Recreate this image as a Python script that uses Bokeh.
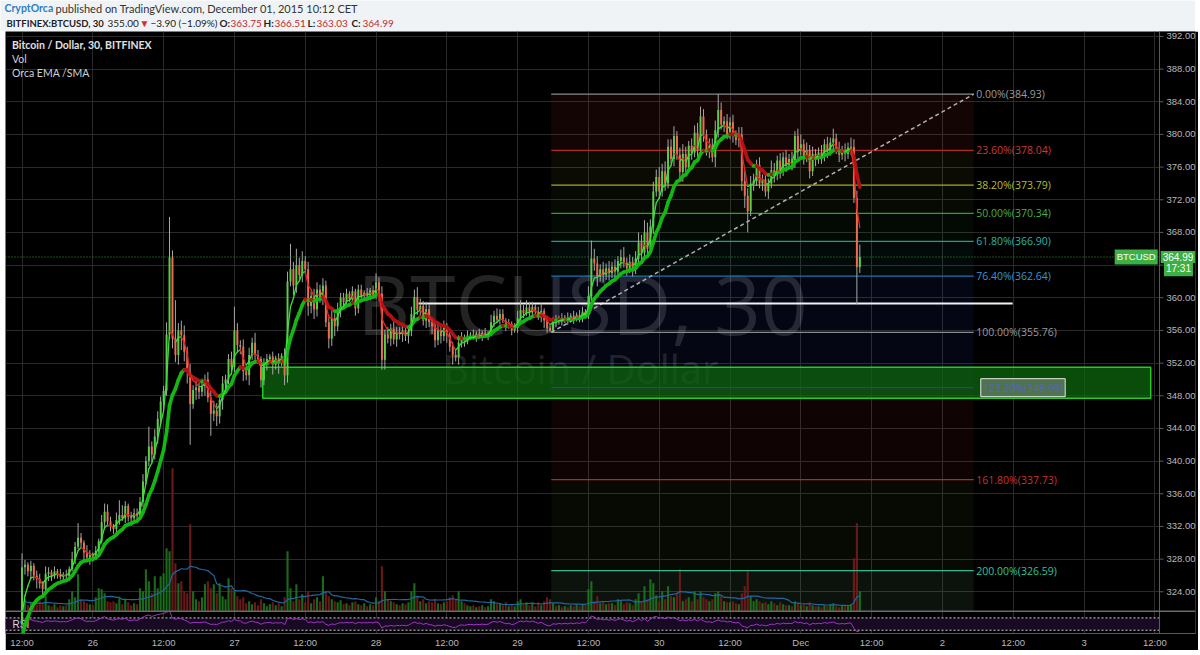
import numpy as np
from bokeh.plotting import figure
from bokeh.models import Range1d, FixedTicker, Label, Span, ColumnDataSource, NumeralTickFormatter, Spacer
from bokeh.layouts import column, row
from bokeh.embed import file_html
from bokeh.resources import INLINE
from bokeh.core.properties import value

# ---------------- DATA ----------------
# time in hours from 25 Nov 2015 00:00, 30-minute candles
first_hour = 12.0
bar_hours = 0.5
first_open = 320.0
closes = [
    327.0, 327.3, 326.5, 327.2, 326.0, 325.6, 325.0, 324.3, 326.2, 326.4,
    325.9, 326.5, 326.2, 325.8, 326.1, 325.9, 326.8, 328.0, 329.5, 330.6,
    330.0, 328.8, 328.2, 328.5, 328.3, 329.0, 330.2, 332.5, 333.8, 332.6,
    332.0, 331.7, 332.8, 333.4, 333.0, 334.5, 333.2, 333.0, 333.6, 333.3,
    335.0, 337.5, 340.0, 341.8, 340.8, 343.0, 345.2, 347.3, 348.6, 355.5,
    364.9, 355.0, 353.0, 356.0, 355.4, 353.4, 351.0, 347.0, 348.7, 349.0,
    348.5, 349.2, 350.0, 347.8, 345.8, 346.2, 345.5, 347.5, 349.5, 350.0,
    352.5, 351.5, 356.0, 354.2, 354.0, 351.0, 350.5, 353.0, 354.5, 353.0,
    352.5, 349.9, 352.0, 352.5, 352.8, 351.8, 352.6, 352.2, 352.9, 350.5,
    362.0, 363.5, 361.5, 364.0, 362.8, 364.5, 363.5, 359.0, 360.2, 358.6,
    361.0, 360.0, 361.5, 357.0, 355.0, 357.5, 356.5, 358.5, 360.0, 359.5,
    360.5, 359.8, 360.8, 358.7, 361.0, 360.2, 360.6, 360.3, 360.9, 360.4,
    361.9, 360.5, 352.4, 355.5, 355.0, 356.2, 354.9, 355.8, 355.5, 356.0,
    355.3, 355.9, 358.0, 360.1, 358.5, 359.0, 357.2, 358.6, 357.0, 356.5,
    354.8, 356.0, 355.3, 356.3, 355.4, 354.0, 353.0, 352.7, 354.5, 355.2,
    354.6, 355.4, 355.5, 355.2, 355.6, 355.3, 355.7, 355.4, 355.6, 357.0,
    357.8, 357.3, 358.0, 357.2, 356.5, 356.8, 356.0, 356.3, 357.5, 358.5,
    358.1, 358.8, 358.2, 358.9, 358.3, 357.6, 358.4, 357.2, 356.3, 356.0,
    357.3, 357.0, 357.5, 357.2, 357.6, 357.3, 357.8, 357.4, 357.9, 357.6,
    358.3, 358.0, 360.2, 364.8, 364.2, 362.6, 363.5, 362.8, 363.6, 363.0,
    363.8, 363.2, 364.5, 365.0, 364.3, 363.6, 364.4, 363.5, 364.8, 366.8,
    365.5, 368.0, 366.0, 368.7, 373.0, 374.8, 373.0, 375.5, 374.0, 378.5,
    377.0, 379.8, 377.5, 375.4, 377.6, 376.0, 378.6, 377.8, 380.2, 378.0,
    382.2, 380.0, 378.0, 378.6, 377.2, 380.5, 383.0, 381.2, 381.6, 380.0,
    381.5, 379.9, 379.3, 380.0, 374.3, 372.5, 370.6, 374.0, 374.3, 376.3,
    374.0, 374.5, 373.0, 374.0, 375.6, 375.0, 376.8, 375.5, 377.2, 376.3,
    377.0, 376.5, 379.8, 378.0, 378.8, 377.2, 378.1, 375.5, 377.6, 377.0,
    377.8, 377.3, 378.8, 378.0, 379.0, 379.5, 378.2, 377.5, 378.0, 377.6,
    378.4, 378.5, 372.2, 363.75, 364.99,
]
# wick lengths, one digit per candle, in units of wick_unit dollars
wick_unit = 0.3
upper_wick_rows = [
    "3212122132", "1212121323", "2132121343", "2131421222", "2324233223",
    "6353442323", "2323343232", "2343232324", "2122121213", "4536342323",
    "3232342322", "2121221212", "4232323222", "2233432322", "2323222232",
    "1212121213", "2322121234", "2322123121", "1212121212", "2149432323",
    "2323423234", "3543434343", "3423432334", "4323342323", "2323343332",
    "3232432323", "2323423232", "2323242323", "22332",
]
lower_wick_rows = [
    "2323242313", "2121212121", "2323212122", "2232122323", "1212323232",
    "2434645424", "3242434342", "2323342423", "2323242524", "3243232434",
    "3232434232", "2123212121", "2364232323", "2323232323", "3232324232",
    "2121212121", "2121212121", "2121212323", "1212121212", "2123342323",
    "2323232323", "3232323232", "2323432323", "2323243232", "2323453232",
    "2323232323", "2323232323", "2323232323", "23232",
]
high_overrides = {0: 328.7, 19: 332.4, 28: 334.8, 33: 335.2, 43: 344.2, 49: 357.0,
                  50: 369.9, 52: 359.7, 72: 358.9, 91: 366.6, 93: 366.0, 120: 363.0,
                  193: 367.0, 236: 384.93, 281: 379.6, 284: 366.51}
low_overrides = {7: 323.6, 57: 342.0, 64: 343.1, 122: 351.2, 147: 352.2, 179: 355.76,
                 246: 368.0, 283: 359.2, 284: 363.03}
# volume (bar height in reference pixels)
volumes = [
    8, 12, 6, 9, 5, 7, 10, 8, 15, 6,
    5, 7, 4, 6, 5, 6, 12, 20, 14, 37,
    12, 10, 8, 7, 6, 14, 23, 22, 18, 10,
    9, 10, 8, 13, 7, 12, 9, 6, 8, 7,
    23, 20, 42, 30, 18, 35, 23, 35, 38, 63,
    60, 143, 48, 28, 30, 20, 18, 87, 20, 12,
    10, 14, 27, 30, 23, 27, 18, 28, 15, 12,
    33, 23, 20, 15, 12, 14, 8, 10, 7, 9,
    6, 12, 8, 5, 7, 9, 6, 8, 5, 14,
    60, 23, 10, 27, 12, 17, 9, 20, 8, 12,
    14, 10, 35, 20, 15, 12, 10, 9, 11, 7,
    8, 6, 9, 10, 7, 6, 8, 5, 7, 6,
    14, 10, 45, 20, 12, 10, 9, 7, 6, 8,
    7, 9, 20, 28, 14, 10, 12, 8, 10, 9,
    12, 8, 7, 9, 10, 14, 16, 12, 20, 10,
    8, 6, 5, 6, 4, 5, 6, 4, 5, 12,
    10, 7, 8, 6, 9, 5, 6, 5, 10, 12,
    7, 9, 6, 8, 5, 9, 6, 10, 14, 12,
    8, 5, 6, 4, 5, 4, 6, 5, 7, 5,
    7, 6, 22, 30, 10, 15, 8, 9, 7, 8,
    8, 6, 12, 10, 7, 9, 8, 6, 12, 18,
    10, 25, 12, 32, 28, 16, 10, 20, 12, 25,
    15, 14, 18, 42, 10, 12, 14, 10, 20, 12,
    20, 14, 12, 10, 12, 18, 20, 15, 10, 9,
    9, 10, 8, 7, 18, 25, 40, 15, 10, 12,
    10, 8, 9, 7, 10, 8, 6, 9, 7, 6,
    6, 5, 10, 8, 6, 7, 5, 9, 6, 5,
    5, 4, 6, 5, 7, 8, 5, 4, 6, 5,
    6, 7, 53, 88, 20,
]
ema_seed = 317.0
fast_period, slow_period, vol_ma_period, rsi_period = 4, 12, 15, 14

time_ticks = [12, 24, 36, 48, 60, 72, 84, 96, 108, 120, 132, 144, 156, 168, 180, 192, 204]
time_labels = ["12:00", "26", "12:00", "27", "12:00", "28", "12:00", "29", "12:00",
               "30", "12:00", "Dec", "12:00", "2", "12:00", "3", "12:00"]
price_ticks = [324, 328, 332, 336, 340, 344, 348, 352, 356, 360, 364, 368, 372, 376, 380, 384, 388, 392]
hidden_price_tick = 364   # covered by the last-price tags

fib_pcts = [0.0, 23.6, 38.2, 50.0, 61.8, 76.4, 100.0, 123.2, 161.8, 200.0]
fib_prices = [384.93, 378.04, 373.79, 370.34, 366.90, 362.64, 355.76, 348.99, 337.73, 326.59]
fib_line_colors = ["#8a8a8a", "#b02a2a", "#a3ad1c", "#3a9a2a", "#1f9e8c", "#2070a8",
                   "#8a8a8a", "#2a3f9a", "#c42222", "#33b890"]
fib_text_colors = ["#9a9a9a", "#c83a3a", "#b4bf28", "#44b044", "#2ab5a5", "#3a95d0",
                   "#9a9a9a", "#5a6ec0", "#c83030", "#2ec594"]
fib_fill_colors = ["#ff3b3b", "#b4b43c", "#6fbf3f", "#2ecc40", "#20b2aa", "#3050ff",
                   "#3050ff", "#ff3030", "#8ab43c", "#60a060"]
fib_fill_alphas = [0.08, 0.06, 0.05, 0.05, 0.06, 0.08, 0.08, 0.06, 0.05, 0.12]
fib_start, fib_end = 101.7, 173.3
zone_left, zone_right, zone_low, zone_high = 52.8, 203.3, 347.7, 351.5
support_price, support_start, support_end = 359.3, 79.2, 179.9
last_price = 364.99
last_price_tags = ["BTCUSD", "364.99", "17:31"]

header_line1 = [("CryptOrca", 4, "bold", "#2f7fc1", "10.5px"),
                ("published on TradingView.com, December 01, 2015 10:12 CET", 55, "normal", "#333333", "11px")]
header_line2 = [("BITFINEX:BTCUSD, 30", 6, "bold", "#222222", "9.5px"), ("355.00", 107, "normal", "#222222", "10px"),
                ("\u25bc", 139, "normal", "#d32f2f", "10px"),
                ("\u22123.90 (\u22121.09%)", 150, "normal", "#222222", "10px"),
                ("O:", 219, "bold", "#222222", "10px"), ("363.75", 230, "normal", "#c62828", "10px"),
                ("H:", 263, "bold", "#222222", "10px"), ("366.51", 274, "normal", "#c62828", "10px"),
                ("L:", 307, "bold", "#222222", "10px"), ("363.03", 316, "normal", "#c62828", "10px"),
                ("C:", 351, "bold", "#222222", "10px"), ("364.99", 362, "normal", "#c62828", "10px")]

# ---------------- DERIVED ----------------
n = len(closes)
up = np.array([int(ch) for ch in "".join(upper_wick_rows)]) * wick_unit
dn = np.array([int(ch) for ch in "".join(lower_wick_rows)]) * wick_unit
assert len(up) == n and len(dn) == n and len(volumes) == n, (n, len(up), len(dn), len(volumes))
t = first_hour + bar_hours * np.arange(n)
c = np.array(closes, float)
o = np.r_[first_open, c[:-1]]
hi = np.maximum(o, c) + up
lo = np.minimum(o, c) - dn
for k, v in high_overrides.items():
    hi[k] = v
for k, v in low_overrides.items():
    lo[k] = v
hi = np.maximum(hi, np.maximum(o, c))
lo = np.minimum(lo, np.minimum(o, c))
rising = c >= o
btop = np.maximum(o, c)
bbot = np.minimum(o, c)
bbot = np.where(btop - bbot < 0.12, btop - 0.12, bbot)


def ema(vals, period, seed):
    a = 2.0 / (period + 1)
    e = seed
    out = []
    for v in vals:
        e += a * (v - e)
        out.append(e)
    return np.array(out)


ema_fast = ema(c, fast_period, ema_seed)
ema_slow = ema(c, slow_period, ema_seed)
vol = np.array(volumes, float)
vol_ma = np.array([vol[max(0, i - vol_ma_period + 1):i + 1].mean() for i in range(n)])

chg = c - o
gain = np.where(chg > 0, chg, 0.0)
loss = np.where(chg < 0, -chg, 0.0)
ag, al = 0.6, 0.6
rsi = []
for g, l in zip(gain, loss):
    ag = (ag * (rsi_period - 1) + g) / rsi_period
    al = (al * (rsi_period - 1) + l) / rsi_period
    rsi.append(100 - 100 / (1 + ag / al) if al > 0 else 100)
rsi = np.array(rsi)

# ---------------- GEOMETRY ----------------
FW_MAIN, AXIS_COL = 1154, 36          # chart area and price-scale column (px)
FW, FH = FW_MAIN + AXIS_COL, 602
PX_PER_HOUR = 5.9
X_START = 9.2
X_MAIN_END = X_START + FW_MAIN / PX_PER_HOUR
X_END = X_START + FW / PX_PER_HOUR
Y_TOP, PANE_BOTTOM = 392.6, 321.62
rsi_px = FH * 22.3 / 602.3
ppd = (FH - rsi_px) / (Y_TOP - PANE_BOTTOM)
Y_BOT = PANE_BOTTOM - rsi_px / ppd
RSI_AT_SEP, RSI_AT_BOTTOM = 91.8, 19.3
rpd = (RSI_AT_SEP - RSI_AT_BOTTOM) / (PANE_BOTTOM - Y_BOT)
VOL_PER_PRICE = 8.17

BODY_UP, BODY_DN = "#5ccf4a", "#ef6c50"
FONT = "Open Sans"
AXIS_GREY = "#5a5a5a"

p = figure(frame_width=FW, frame_height=FH, x_range=Range1d(X_START, X_END),
           y_range=Range1d(Y_BOT, Y_TOP), y_axis_location="right",
           output_backend="svg", toolbar_location=None,
           background_fill_color="#000000", border_fill_color="#000000",
           outline_line_color=None, min_border_left=0, min_border_top=0,
           min_border_right=0, min_border_bottom=0)
p.extra_y_ranges = {
    "rsi": Range1d(RSI_AT_BOTTOM, RSI_AT_BOTTOM + (Y_TOP - Y_BOT) * rpd),
    "vol": Range1d(-(PANE_BOTTOM - Y_BOT) * VOL_PER_PRICE, (Y_TOP - PANE_BOTTOM) * VOL_PER_PRICE),
}

# grid
p.xgrid.ticker = FixedTicker(ticks=time_ticks)
p.ygrid.ticker = FixedTicker(ticks=price_ticks)
p.grid.grid_line_color = "#2a2a2a"
p.grid.grid_line_width = 1

# axes: the price scale labels are drawn by the right axis, pulled into its column
p.yaxis.ticker = FixedTicker(ticks=price_ticks)
p.yaxis.formatter = NumeralTickFormatter(format="0.00")
p.yaxis.major_label_overrides = {hidden_price_tick: ""}
p.xaxis.ticker = FixedTicker(ticks=time_ticks)
p.xaxis.major_label_overrides = {tk: lb for tk, lb in zip(time_ticks, time_labels)}
for ax in (p.xaxis[0], p.yaxis[0]):
    ax.major_label_text_color = "#b8b8b8"
    ax.major_label_text_font = "Liberation Sans"
    ax.major_label_text_font_size = "9.5px"
    ax.minor_tick_line_color = None
    ax.major_tick_in = 0
    ax.major_tick_out = 0
p.yaxis.axis_line_color = None
p.yaxis.major_tick_line_color = None
p.yaxis.major_label_standoff = -(AXIS_COL - 7)
p.xaxis.axis_line_color = AXIS_GREY
p.xaxis.major_tick_line_color = None
p.xaxis.major_label_standoff = 3

# price column background (hides grid lines there) and separator/ticks
p.quad(left=[X_MAIN_END], right=[X_END], bottom=[Y_BOT], top=[Y_TOP], fill_color="#000000", line_color=None)
p.add_layout(Span(location=X_MAIN_END, dimension="height", line_color=AXIS_GREY, line_width=1))
p.segment(x0=[X_MAIN_END] * len(price_ticks), x1=[X_MAIN_END + 4 / PX_PER_HOUR] * len(price_ticks),
          y0=price_ticks, y1=price_ticks, line_color=AXIS_GREY, line_width=1)

# RSI pane
p.quad(left=[X_START], right=[X_MAIN_END], bottom=[30], top=[70], y_range_name="rsi",
       fill_color="#170a22", line_color=None)
for lvl in (30, 70):
    p.line([X_START, X_MAIN_END], [lvl, lvl], y_range_name="rsi",
           line_color="#d0d0d0", line_dash="2 2", line_width=1)
p.line(t, rsi, y_range_name="rsi", line_color="#a035c8", line_width=1)
p.text(x=[10.4], y=[50], text=["RSI"], y_range_name="rsi", text_font=value("Liberation Sans"),
       text_font_size="10px", text_color="#d8d8d8", text_baseline="middle")
p.add_layout(Span(location=PANE_BOTTOM, dimension="width", line_color="#6a6a6a", line_width=1.5))

# watermark
p.text(x=[107.0], y=[359.4], text=["BTCUSD, 30"], text_font=value(FONT), text_font_size="82px",
       text_color="#ffffff", text_alpha=0.14, text_align="center", text_baseline="alphabetic")
p.text(x=[106.7], y=[351.3], text=["Bitcoin / Dollar"], text_font=value(FONT), text_font_size="40px",
       text_color="#ffffff", text_alpha=0.14, text_align="center", text_baseline="alphabetic")

# fib fills
band_tops = fib_prices
band_bots = fib_prices[1:] + [PANE_BOTTOM]
p.quad(left=[fib_start] * len(band_tops), right=[fib_end] * len(band_tops),
       top=band_tops, bottom=band_bots, fill_color=fib_fill_colors,
       fill_alpha=fib_fill_alphas, line_color=None)

# volume
vsrc = ColumnDataSource(dict(t=t, v=vol, col=np.where(rising, "#1d761d", "#741c1c").tolist()))
p.vbar(x="t", top="v", bottom=0, width=0.36, source=vsrc, y_range_name="vol",
       fill_color="col", line_color=None, fill_alpha=0.9)
p.line(t, vol_ma, y_range_name="vol", line_color="#2166a0", line_width=1.2)

# green zone
p.quad(left=[zone_left], right=[zone_right], bottom=[zone_low], top=[zone_high],
       fill_color="#0d650d", fill_alpha=0.75, line_color="#22cc22", line_width=1.5)

# fib lines and labels
p.segment(x0=[fib_start] * len(fib_prices), x1=[fib_end] * len(fib_prices),
          y0=fib_prices, y1=fib_prices, line_color=fib_line_colors, line_width=1.2)
fib_texts = ["%.2f%%(%.2f)" % (pc, pr) for pc, pr in zip(fib_pcts, fib_prices)]
idx_plain = [i for i in range(len(fib_pcts)) if fib_pcts[i] != 123.2]
p.text(x=[fib_end + 0.45] * len(idx_plain), y=[fib_prices[i] for i in idx_plain],
       text=[fib_texts[i] for i in idx_plain], text_color=[fib_text_colors[i] for i in idx_plain],
       text_font=value(FONT), text_font_size="10.5px", text_baseline="middle")
i123 = fib_pcts.index(123.2)
p.add_layout(Label(x=fib_end + 1.2, y=fib_prices[i123], text=fib_texts[i123],
                   text_color="#5567b8", text_font=FONT, text_font_size="10.5px",
                   text_baseline="middle", background_fill_color="#7d8c7d", background_fill_alpha=0.6,
                   border_line_color="#e8e8e8", border_line_width=1, padding=2))

# trend line (from fib low to fib high) and support line
p.line([fib_start, fib_end], [fib_prices[6], fib_prices[0]], line_color="#b0b0b0",
       line_dash="4 3", line_width=1.5)
p.line([support_start, support_end], [support_price, support_price], line_color="#f2f2f2", line_width=2)

# candles
csrc = ColumnDataSource(dict(t=t, hi=hi, lo=lo, top=btop, bot=bbot,
                             col=np.where(rising, BODY_UP, BODY_DN).tolist()))
p.segment(x0="t", x1="t", y0="lo", y1="hi", source=csrc, line_color="#a8a8a8", line_width=1)
p.vbar(x="t", top="top", bottom="bot", width=0.33, source=csrc, fill_color="col", line_color=None)


# EMA lines coloured by slope
def slope_segments(vals, up_col, dn_col, width, alpha=1.0):
    col = np.where(vals[1:] >= vals[:-1], up_col, dn_col).tolist()
    p.segment(x0=t[:-1], x1=t[1:], y0=vals[:-1], y1=vals[1:], line_color=col,
              line_width=width, line_cap="round", line_alpha=alpha)


slope_segments(ema_slow, "#13b813", "#b31212", 3.6)
slope_segments(ema_fast, "#38e038", "#e02525", 1.3)

# last price line + tags
p.line([X_START, X_MAIN_END], [last_price, last_price], line_color="#2ea02e",
       line_dash="1 2", line_width=1)
tag_style = dict(text_baseline="middle", text_color="#ffffff", text_font="Liberation Sans",
                 background_fill_color="#3cb043", padding=2)
p.add_layout(Label(x=X_MAIN_END - 0.3, y=last_price, text=last_price_tags[0], text_align="right",
                   text_font_size="9.5px", **tag_style))
p.add_layout(Label(x=X_MAIN_END + 0.2, y=last_price, text=last_price_tags[1], text_align="left",
                   text_font_size="10px", **tag_style))
p.add_layout(Label(x=X_MAIN_END + 0.75, y=last_price - 1.45, text=last_price_tags[2],
                   text_align="left", text_font_size="10px", **tag_style))

# top-left legend
p.text(x=[10.3], y=[390.9], text=["Bitcoin / Dollar, 30, BITFINEX"], text_font=value("Lato"),
       text_font_size="10.5px", text_font_style="bold", text_color="#e0e0e0", text_baseline="middle")
p.text(x=[10.3, 10.3], y=[389.25, 387.55], text=["Vol", "Orca EMA /SMA"], text_font=value("Lato"),
       text_font_size="10.5px", text_color="#d0d0d0", text_baseline="middle")

# ---------------- HEADER ----------------
HW, HH = 1195, 31
h = figure(width=HW, height=HH, x_range=Range1d(0, HW), y_range=Range1d(0, HH),
           output_backend="svg", toolbar_location=None, x_axis_type=None, y_axis_type=None,
           background_fill_color="#f0f3f6", border_fill_color="#f0f3f6", outline_line_color=None,
           min_border=0)
h.grid.visible = False
for line, yy in ((header_line1, 23.5), (header_line2, 8.5)):
    for seg in line:
        h.text(x=[seg[1]], y=[yy], text=[seg[0]], text_color=seg[3], text_font=value("Lato"),
               text_font_size=seg[4], text_font_style=seg[2], text_baseline="middle")

layout = column(h, row(Spacer(width=5, height=10), p, spacing=0), spacing=0)
open("out.html", "w").write(file_html(layout, INLINE))
